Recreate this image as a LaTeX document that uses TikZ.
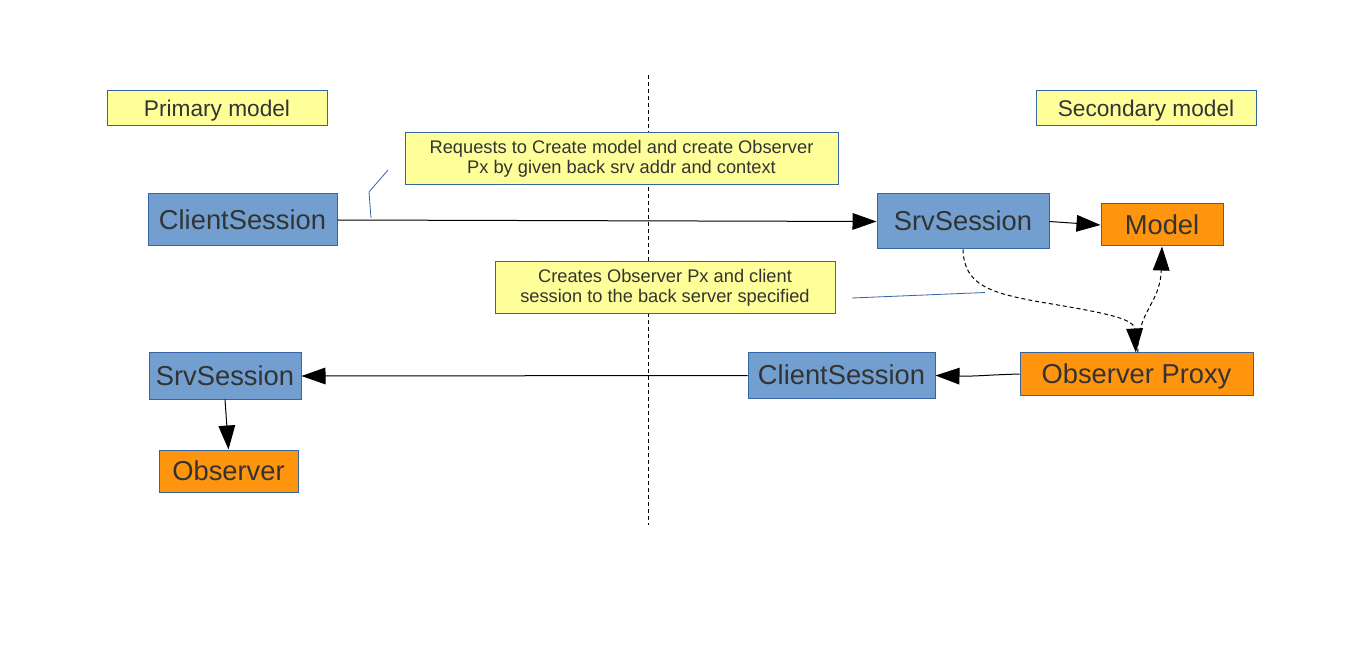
\documentclass[tikz,border=0pt]{standalone}
\usepackage{fontspec}
\setmainfont{Liberation Sans}
\usetikzlibrary{arrows.meta}
\definecolor{boxblue}{HTML}{729FCF}
\definecolor{edgeblue}{HTML}{3465A4}
\definecolor{noteyellow}{HTML}{FFFF99}
\definecolor{boxorange}{HTML}{FF950E}
\definecolor{txt}{HTML}{333333}
\tikzset{
  sz/.style 2 args={minimum width=#1*0.75pt,minimum height=#2*0.75pt},
  basebox/.style={draw=edgeblue,line width=0.75pt,inner sep=0pt,text=txt,anchor=center},
  bigline/.style={text height=18.55pt,text depth=4.35pt},
  midline/.style={text height=15.4pt,text depth=3.6pt},
  bluebox/.style={basebox,bigline,fill=boxblue,font=\fontsize{20.5}{24}\selectfont},
  orangebox/.style={basebox,bigline,fill=boxorange,font=\fontsize{20.5}{24}\selectfont},
  labelbox/.style={basebox,midline,fill=noteyellow,font=\fontsize{17}{20}\selectfont},
  notebox/.style={basebox,fill=noteyellow,align=center,font=\fontsize{13.7}{15}\selectfont},
  conn/.style={draw=black,line width=0.75pt,-{Triangle[length=18pt,width=12.5pt]}},
  dconn/.style={conn,dash pattern=on 3pt off 2.25pt},
  callout/.style={draw=edgeblue,line width=0.6pt},
}
\begin{document}
\begin{tikzpicture}[x=0.75pt,y=-0.75pt]
\path[use as bounding box,fill=white] (0,0) rectangle (1359,648);
% divider
\coordinate (dtop) at (648,75);
\coordinate (dbot) at (648,525);
\draw[line width=0.75pt,dash pattern=on 3pt off 2.25pt] (dtop) -- (dbot);
% labels
\node[labelbox,sz={220}{35}] (primary) at (217,108.5) {Primary model};
\node[labelbox,sz={220}{35}] (secondary) at (1146,108.5) {Secondary model};
% notes
\node[notebox,sz={433}{52}] (note1) at (621.5,159) {Requests to Create model and create Observer\\Px by given back srv addr and context};
\node[notebox,sz={340}{52}] (note2) at (665,288) {Creates Observer Px and client\\session to the back server specified};
% boxes
\node[bluebox,sz={189}{52}] (cs1) at (242.5,220) {ClientSession};
\node[bluebox,sz={172}{55}] (srv1) at (963,221.5) {SrvSession};
\node[orangebox,sz={122}{42}] (model) at (1162,225) {Model};
\node[bluebox,sz={152}{46}] (srv2) at (225,376) {SrvSession};
\node[bluebox,sz={187}{45}] (cs2) at (841.5,375.5) {ClientSession};
\node[orangebox,sz={233}{42}] (proxy) at (1136.5,374) {Observer Proxy};
\node[orangebox,sz={139}{42}] (observer) at (228.5,471) {Observer};
% connectors
\draw[conn] (cs1.east) -- (srv1.west);
\draw[conn] (srv1.east) -- (model.west);
\draw[dconn] (srv1.south) .. controls (964,285) and (990,293) .. (1040,302) .. controls (1100,312) and (1134,318) .. ([xshift=-0.5]proxy.north);
\draw[dconn] ([xshift=1]proxy.north) .. controls (1137,310) and (1160,305) .. (model.south);
\draw[conn] (proxy.west) .. controls (985,375) and (975,376.5) .. (cs2.east);
\draw[conn] (cs2.west) -- (srv2.east);
\draw[conn] (srv2.south) -- (observer.north);
% callout pointers
\coordinate (c1a) at (371,218);
\coordinate (c1b) at (369,192);
\coordinate (c1c) at (388,170);
\draw[callout] (c1a) -- (c1b) -- (c1c);
\coordinate (c2a) at (852,298);
\coordinate (c2b) at (985,292.5);
\draw[callout] (c2a) -- (c2b);
\end{tikzpicture}
\end{document}
